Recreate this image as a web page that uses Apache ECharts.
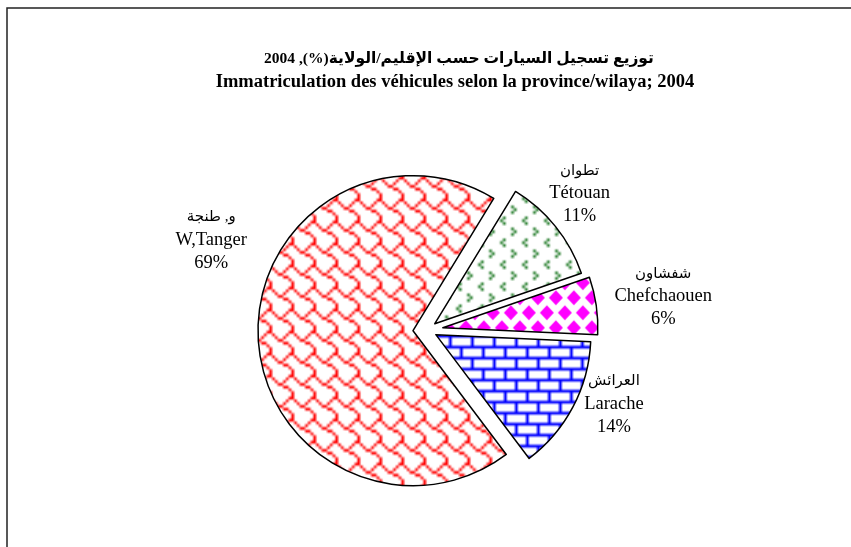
<!DOCTYPE html>
<html>
<head>
<meta charset="utf-8">
<script src="https://cdn.jsdelivr.net/npm/echarts@6/dist/echarts.min.js"></script>
<style>
html,body{margin:0;padding:0;background:#fff;}
#main{width:851px;height:547px;}
</style>
</head>
<body>
<div id="main"></div>
<script>
var namesAr = ['و, طنجة', 'تطوان', 'شفشاون', 'العرائش'];
var namesFr = ['W,Tanger', 'Tétouan', 'Chefchaouen', 'Larache'];
var values = [69, 11, 6, 14];

// how far each slice is pulled out (px)
var explode = [14, 10, 16, 10];
// label shifts from the default outside position
var labelDx = [-42, 19, 62, 36];
var labelDy = [-98, -33, -9, -3];

// 8x8 fill patterns, blown up with smoothing like the old office ones
function bitmap(rows, color, size) {
    var src = document.createElement('canvas');
    src.width = 24; src.height = 24;
    var s = src.getContext('2d');
    s.fillStyle = '#fff';
    s.fillRect(0, 0, 24, 24);
    s.fillStyle = color;
    for (var ty = 0; ty < 3; ty++) {
        for (var tx = 0; tx < 3; tx++) {
            rows.forEach(function (r, y) {
                for (var x = 0; x < 8; x++) {
                    if (r[x] === '#') s.fillRect(tx * 8 + x, ty * 8 + y, 1, 1);
                }
            });
        }
    }
    var big = document.createElement('canvas');
    big.width = size * 3; big.height = size * 3;
    var b = big.getContext('2d');
    b.imageSmoothingEnabled = true;
    b.drawImage(src, 0, 0, size * 3, size * 3);
    var c = document.createElement('canvas');
    c.width = size; c.height = size;
    c.getContext('2d').drawImage(big, size, size, size, size, 0, 0, size, size);
    return {image: c, repeat: 'repeat'};
}
function diamonds(color) {
    var w = 18, h = 30;
    var c = document.createElement('canvas');
    c.width = w; c.height = h;
    var ctx = c.getContext('2d');
    ctx.fillStyle = '#fff';
    ctx.fillRect(0, 0, w, h);
    ctx.fillStyle = color;
    [[0, 0], [w, 0], [0, h], [w, h], [w / 2, h / 2]].forEach(function (p) {
        ctx.beginPath();
        ctx.moveTo(p[0] - 7, p[1]);
        ctx.lineTo(p[0], p[1] - 7.5);
        ctx.lineTo(p[0] + 7, p[1]);
        ctx.lineTo(p[0], p[1] + 7.5);
        ctx.closePath();
        ctx.fill();
    });
    return {image: c, repeat: 'repeat'};
}

var shingle = bitmap([
    '......##',
    '#....#..',
    '.#..#...',
    '..##....',
    '....##..',
    '......#.',
    '.......#',
    '.......#'
], '#ff0000', 22);
var divot = bitmap([
    '........',
    '....#...',
    '...#....',
    '....#...',
    '........',
    '.......#',
    '#.......',
    '.......#'
], '#13731a', 22);
var bricks = bitmap([
    '########',
    '#.......',
    '#.......',
    '#.......',
    '########',
    '....#...',
    '....#...',
    '....#...'
], '#0000ff', 22);
var fills = [shingle, divot, diamonds('#ff00ff'), bricks];

var font = 'Liberation Serif, DejaVu Sans';

// one series per slice so each one gets its own pull-out
var series = values.map(function (v, s) {
    return {
        type: 'pie',
        center: [427, 330],
        radius: 155,
        startAngle: 307,
        clockwise: true,
        silent: true,
        selectedMode: 'multiple',
        selectedOffset: explode[s],
        avoidLabelOverlap: false,
        label: {
            show: true,
            position: 'outside',
            color: '#000',
            formatter: function (p) {
                return '{ar|' + namesAr[p.dataIndex] + '}\n{fr|' + namesFr[p.dataIndex] + '}\n{fr|' + p.value + '%}';
            },
            rich: {
                ar: {fontFamily: font, fontSize: 15, lineHeight: 23, align: 'center', color: '#000'},
                fr: {fontFamily: 'Liberation Serif', fontSize: 18.5, lineHeight: 23, align: 'center', color: '#000'}
            }
        },
        labelLine: {show: false, length: 0, length2: 0},
        labelLayout: function () {
            return {align: 'center', dx: labelDx[s], dy: labelDy[s]};
        },
        data: values.map(function (w, i) {
            if (i === s) {
                return {name: namesFr[i], value: w, selected: true,
                    itemStyle: {color: fills[i], borderColor: '#000', borderWidth: 1.5}};
            }
            return {name: namesFr[i], value: w,
                itemStyle: {color: 'rgba(0,0,0,0)', borderWidth: 0}, label: {show: false}};
        })
    };
});

var chart = echarts.init(document.getElementById('main'));
var option = {
    backgroundColor: '#fff',
    animation: false,
    title: [{
        text: 'توزيع تسجيل السيارات حسب الإقليم/الولاية(%), 2004',
        left: 454,
        textAlign: 'center',
        top: 46,
        textStyle: {fontFamily: font, fontWeight: 'bold', fontSize: 15.5, color: '#000'}
    }, {
        text: 'Immatriculation des véhicules selon la province/wilaya; 2004',
        left: 450,
        textAlign: 'center',
        top: 68,
        textStyle: {fontFamily: 'Liberation Serif', fontWeight: 'bold', fontSize: 18.5, color: '#000'}
    }],
    graphic: [{
        type: 'rect',
        shape: {x: 7, y: 8, width: 900, height: 600},
        style: {fill: 'none', stroke: '#222', lineWidth: 1.5}
    }],
    series: series
};
chart.setOption(option);
window.onresize = function () { chart.resize(); };
</script>
</body>
</html>
